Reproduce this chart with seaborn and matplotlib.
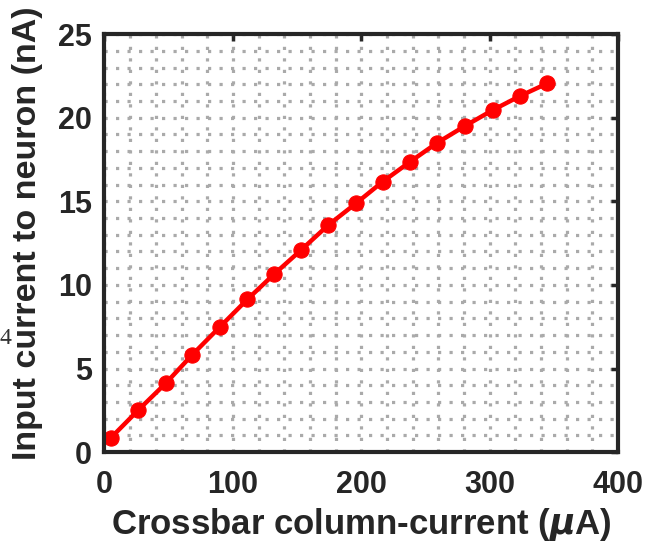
import numpy as np
import pandas as pd
import matplotlib
matplotlib.use("Agg")
import matplotlib.pyplot as plt
from matplotlib.ticker import MultipleLocator
import seaborn as sns

# 그림에서 읽은 값
column_current = [4.8, 26.3, 47.9, 68.1, 89.9, 111.2, 132.2, 153.0, 174.3,
                  195.9, 216.6, 237.9, 259.1, 280.6, 302.2, 323.4, 344.7]
neuron_current = [0.84, 2.51, 4.13, 5.80, 7.49, 9.13, 10.65, 12.08, 13.58,
                  14.88, 16.17, 17.36, 18.50, 19.50, 20.45, 21.29, 22.05]
x_ticks = [0, 100, 200, 300, 400]
y_ticks = [0, 5, 10, 15, 20, 25]

df = pd.DataFrame({"x": column_current, "y": neuron_current})

sns.set_theme(style="white")
plt.rcParams["font.family"] = ["Liberation Sans", "DejaVu Sans"]
plt.rcParams["font.weight"] = "bold"
plt.rcParams["mathtext.fontset"] = "dejavusans"

fig = plt.figure(figsize=(6.68, 5.5), dpi=100)
ax = fig.add_axes([0.1564, 0.178, 0.769, 0.760])

# 점선 격자 (주/보조)
ax.xaxis.set_minor_locator(MultipleLocator(20))
ax.yaxis.set_minor_locator(MultipleLocator(1))
ax.grid(which="both", color="#aaaaaa", linewidth=2.3, linestyle=(0, (1, 2.6)))
ax.set_axisbelow(True)

sns.lineplot(data=df, x="x", y="y", ax=ax, color="red", linewidth=3.2,
             marker="o", markersize=11, markeredgecolor="red",
             markerfacecolor="red")

ax.set_xlim(0, 400)
ax.set_ylim(0, 25)
ax.set_xticks(x_ticks)
ax.set_yticks(y_ticks)
ax.tick_params(which="major", direction="in", length=5, width=2.5,
               color="#262626", top=True, right=True,
               labelsize=22, labelcolor="#262626")
ax.tick_params(axis="x", which="major", pad=13)
ax.tick_params(axis="y", which="major", pad=9)
ax.tick_params(which="minor", length=0)
for lab in ax.get_xticklabels() + ax.get_yticklabels():
    lab.set_fontweight("bold")

for s in ax.spines.values():
    s.set_visible(True)
    s.set_color("#262626")
    s.set_linewidth(3.0)

ax.set_xlabel(r"Crossbar column-current ($\mu$A)", fontsize=25,
              fontweight="bold", color="#262626", labelpad=4)
ax.set_ylabel("Input current to neuron (nA)", fontsize=24.5,
              fontweight="bold", color="#262626", labelpad=9)
ax.yaxis.set_label_coords(-0.12, 0.524)

# 왼쪽 가장자리의 숫자
fig.text(0.0, 0.385, "4", fontsize=17, family="Liberation Serif",
         fontweight="normal", color="#333333", va="center", ha="left")

fig.savefig("out.png", dpi=100)
